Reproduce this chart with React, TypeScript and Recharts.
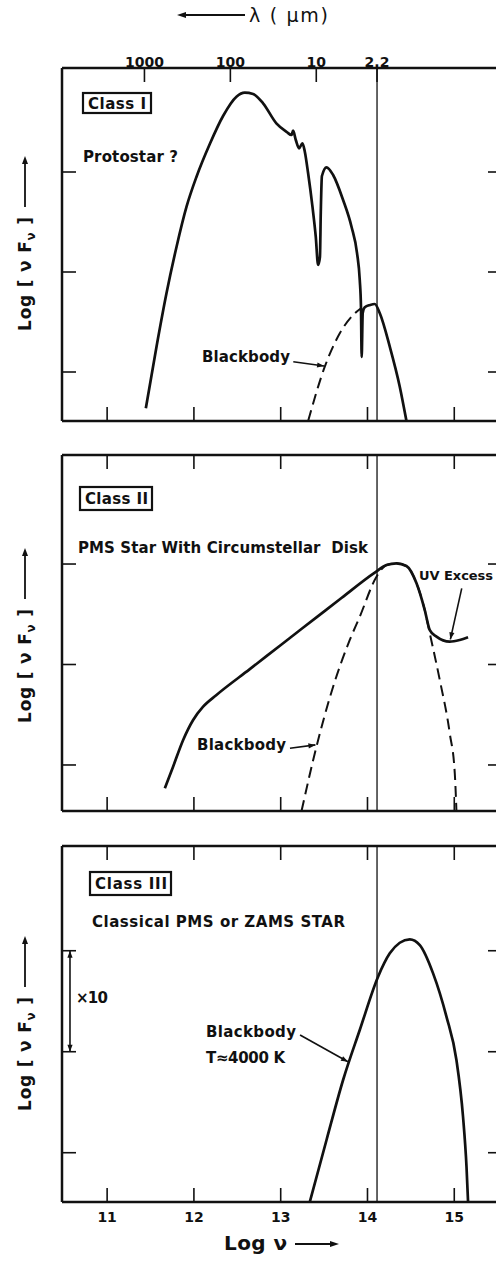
import React from "react";
import { LineChart, Line, XAxis, YAxis, ReferenceLine } from "recharts";

// ---------------------------------------------------------------------------
// Data (log nu on x, log nuF_nu in tick units on y)
// ---------------------------------------------------------------------------

const LOG_NU_TICKS = [11, 12, 13, 14, 15];
const FLUX_TICKS = [1, 2, 3];
const LAMBDA_TICKS = [11.43, 12.42, 13.41, 14.11];
const LAMBDA_LABELS = ["1000", "100", "10", "2.2"];
const K_BAND = 14.11; // 2.2 micron
const X_DOMAIN: [number, number] = [10.48, 15.55];

// Class I
const C1_NU = [11.446, 11.569, 11.684, 11.8, 11.915, 12.03, 12.183, 12.336, 12.49, 12.586, 12.682, 12.797, 12.95, 13.07, 13.124, 13.143, 13.174, 13.212, 13.251, 13.278, 13.316, 13.366, 13.404, 13.431, 13.452, 13.462, 13.475, 13.528, 13.604, 13.719, 13.816, 13.88, 13.911, 13.925, 13.933, 13.945, 13.969, 14.03, 14.084, 14.142, 14.257, 14.372, 14.449];
const C1_SED = [0.637, 1.253, 1.787, 2.253, 2.653, 2.953, 3.28, 3.56, 3.753, 3.793, 3.78, 3.687, 3.487, 3.4, 3.37, 3.413, 3.32, 3.237, 3.287, 3.203, 2.987, 2.653, 2.353, 2.07, 2.15, 2.6, 2.96, 3.047, 2.97, 2.72, 2.453, 2.187, 1.92, 1.65, 1.15, 1.59, 1.647, 1.67, 1.68, 1.587, 1.253, 0.853, 0.51];
const C1_BB_NU = [13.316, 13.508, 13.681, 13.854, 13.93];
const C1_BB = [0.51, 1.053, 1.387, 1.587, 1.64];

// Class II
const C2_NU = [11.665, 11.76, 11.876, 11.991, 12.106, 12.26, 12.644, 13.028, 13.412, 13.7, 14.084, 14.219, 14.334, 14.449, 14.565, 14.66, 14.718, 14.795, 14.948, 15.063, 15.159];
const C2_SED = [0.768, 0.983, 1.249, 1.448, 1.58, 1.697, 1.954, 2.212, 2.469, 2.662, 2.915, 2.99, 3.007, 2.98, 2.808, 2.542, 2.343, 2.277, 2.227, 2.244, 2.271];
const C2_BB_NU = [13.24, 13.412, 13.604, 13.796, 13.911, 14.104, 14.219, 14.334, 14.449, 14.565, 14.66, 14.718, 14.833, 14.948, 15.006, 15.025];
const C2_BB = [0.542, 1.182, 1.779, 2.244, 2.476, 2.874, 2.99, 3.007, 2.98, 2.808, 2.542, 2.31, 1.846, 1.315, 0.917, 0.542];

// Class III
const C3_NU = [13.335, 13.528, 13.719, 13.911, 14.122, 14.257, 14.372, 14.487, 14.603, 14.756, 14.91, 15.025, 15.101, 15.141, 15.159];
const C3_SED = [0.512, 1.126, 1.72, 2.215, 2.743, 2.974, 3.079, 3.113, 3.056, 2.776, 2.347, 1.918, 1.356, 0.861, 0.512];

type Pt = { x: number; y: number };
const zip = (xs: number[], ys: number[]): Pt[] => xs.map((x, i) => ({ x, y: ys[i] }));

// ---------------------------------------------------------------------------
// Styling
// ---------------------------------------------------------------------------

const FONT = "'DejaVu Sans', 'Liberation Sans', sans-serif";
const INK = "#111";
const FRAME = { stroke: INK, strokeWidth: 2.5 };
const TICK_LEN = 14;

// ---------------------------------------------------------------------------
// Inward tick renderers (frame-style axes)
// ---------------------------------------------------------------------------

const tickText = {
  fill: INK,
  fontSize: 14,
  fontWeight: 700,
  fontFamily: FONT,
  textAnchor: "middle" as const,
};

function bottomTick(withLabels: boolean) {
  return (p: any) => (
    <g>
      <line x1={p.x} y1={p.y} x2={p.x} y2={p.y - TICK_LEN} stroke={INK} strokeWidth={1.6} />
      {withLabels && (
        <text x={p.x} y={p.y + 20} {...tickText}>
          {p.payload.value}
        </text>
      )}
    </g>
  );
}

function topTick(labels?: string[], positions?: number[]) {
  return (p: any) => {
    const idx = positions ? positions.indexOf(p.payload.value) : -1;
    return (
      <g>
        <line x1={p.x} y1={p.y} x2={p.x} y2={p.y + TICK_LEN} stroke={INK} strokeWidth={1.6} />
        {labels && idx >= 0 && (
          <text x={p.x} y={p.y - 1.5} {...tickText}>
            {labels[idx]}
          </text>
        )}
      </g>
    );
  };
}

const leftTick = (p: any) => (
  <line x1={p.x} y1={p.y} x2={p.x + TICK_LEN} y2={p.y} stroke={INK} strokeWidth={1.6} />
);

const rightTick = (p: any) => (
  <line x1={p.x} y1={p.y} x2={p.x - TICK_LEN} y2={p.y} stroke={INK} strokeWidth={1.6} />
);

// ---------------------------------------------------------------------------
// Arrow shape for annotation pointers
// ---------------------------------------------------------------------------

function arrowHead(x1: number, y1: number, x2: number, y2: number) {
  const a = Math.atan2(y2 - y1, x2 - x1);
  const L = 7;
  const W = 2.6;
  const bx = x2 - L * Math.cos(a);
  const by = y2 - L * Math.sin(a);
  const px = -Math.sin(a) * W;
  const py = Math.cos(a) * W;
  return `${x2},${y2} ${bx + px},${by + py} ${bx - px},${by - py}`;
}

function ArrowShape(props: any) {
  const { x1, y1, x2, y2, both } = props;
  return (
    <g>
      <line x1={x1} y1={y1} x2={x2} y2={y2} stroke={INK} strokeWidth={1.6} />
      <polygon points={arrowHead(x1, y1, x2, y2)} fill={INK} />
      {both && <polygon points={arrowHead(x2, y2, x1, y1)} fill={INK} />}
    </g>
  );
}

interface Pointer {
  from: Pt;
  to: Pt;
  both?: boolean;
}

// ---------------------------------------------------------------------------
// One SED panel
// ---------------------------------------------------------------------------

interface PanelProps {
  top: number;
  topAxisHeight: number;
  plotHeight: number;
  bottomAxisHeight: number;
  yDomain: [number, number];
  solid: Pt[];
  dashed?: Pt[];
  lambdaAxis?: boolean;
  bottomLabels?: boolean;
  pointers?: Pointer[];
}

function Panel({
  top,
  topAxisHeight,
  plotHeight,
  bottomAxisHeight,
  yDomain,
  solid,
  dashed,
  lambdaAxis,
  bottomLabels,
  pointers = [],
}: PanelProps) {
  const height = topAxisHeight + plotHeight + bottomAxisHeight;
  return (
    <div style={{ position: "absolute", left: 0, top }}>
      <LineChart width={520} height={height} margin={{ top: 0, right: 0, bottom: 0, left: 0 }}>
        <XAxis
          dataKey="x"
          type="number"
          domain={X_DOMAIN}
          allowDataOverflow
          ticks={LOG_NU_TICKS}
          interval={0}
          height={bottomAxisHeight}
          axisLine={FRAME}
          tickLine={false}
          tickSize={0}
          tickMargin={0}
          tick={bottomTick(!!bottomLabels)}
        />
        <XAxis
          xAxisId="top"
          orientation="top"
          dataKey="x"
          type="number"
          domain={X_DOMAIN}
          allowDataOverflow
          ticks={lambdaAxis ? LAMBDA_TICKS : LOG_NU_TICKS}
          interval={0}
          height={topAxisHeight}
          axisLine={FRAME}
          tickLine={false}
          tickSize={0}
          tickMargin={0}
          tick={lambdaAxis ? topTick(LAMBDA_LABELS, LAMBDA_TICKS) : topTick()}
        />
        <YAxis
          type="number"
          domain={yDomain}
          allowDataOverflow
          ticks={FLUX_TICKS}
          interval={0}
          width={62}
          axisLine={FRAME}
          tickLine={false}
          tickSize={0}
          tickMargin={0}
          tick={leftTick}
        />
        <YAxis
          yAxisId="right"
          orientation="right"
          type="number"
          domain={yDomain}
          allowDataOverflow
          ticks={FLUX_TICKS}
          interval={0}
          width={18}
          axisLine={FRAME}
          tickLine={false}
          tickSize={0}
          tickMargin={0}
          tick={rightTick}
        />
        <ReferenceLine x={K_BAND} stroke={INK} strokeWidth={1.3} />
        {dashed && (
          <Line
            data={dashed}
            dataKey="y"
            type="monotone"
            dot={false}
            stroke={INK}
            strokeWidth={2}
            strokeDasharray="11 6"
            isAnimationActive={false}
          />
        )}
        <Line
          data={solid}
          dataKey="y"
          type="monotone"
          dot={false}
          stroke={INK}
          strokeWidth={2.7}
          isAnimationActive={false}
        />
        {pointers.map((p, i) => (
          <ReferenceLine
            key={i}
            segment={[p.from, p.to]}
            shape={(sp: any) => <ArrowShape {...sp} both={p.both} />}
          />
        ))}
      </LineChart>
    </div>
  );
}

// ---------------------------------------------------------------------------
// Text overlay
// ---------------------------------------------------------------------------

function Txt({
  x,
  y,
  w,
  size = 15,
  weight = 700,
  children,
}: {
  x: number;
  y: number;
  w?: number;
  size?: number;
  weight?: number;
  children: React.ReactNode;
}) {
  return (
    <text
      x={x}
      y={y}
      fontSize={size}
      fontWeight={weight}
      fontFamily={FONT}
      fill={INK}
      textLength={w}
      lengthAdjust="spacing"
      style={{ whiteSpace: "pre" }}
    >
      {children}
    </text>
  );
}

function ClassBox({ x, y, w, h, tx, tw, label }: { x: number; y: number; w: number; h: number; tx: number; tw: number; label: string }) {
  return (
    <g>
      <rect x={x} y={y} width={w} height={h} fill="none" stroke={INK} strokeWidth={2.2} />
      <Txt x={tx} y={y + h / 2 + 5.5} w={tw} size={15}>
        {label}
      </Txt>
    </g>
  );
}

function FluxLabel({ cy }: { cy: number }) {
  return (
    <g transform={`translate(25, ${cy}) rotate(-90)`}>
      <text
        x={-87}
        y={6}
        fontSize={17}
        fontWeight={700}
        fontFamily={FONT}
        fill={INK}
        textLength={114}
        lengthAdjust="spacing"
      >
        Log [ ν F<tspan fontSize={12} dy={4}>ν</tspan>
        <tspan dy={-4}> ]</tspan>
      </text>
      <line x1={37} y1={0} x2={82} y2={0} stroke={INK} strokeWidth={1.8} />
      <polygon points="88,0 80,-3 80,3" fill={INK} />
    </g>
  );
}

function Overlay() {
  return (
    <svg
      width={496}
      height={1262}
      style={{ position: "absolute", left: 0, top: 0, pointerEvents: "none" }}
    >
      {/* wavelength title */}
      <line x1={184} y1={15} x2={245} y2={15} stroke={INK} strokeWidth={1.8} />
      <polygon points="177,15 186,12 186,18" fill={INK} />
      <Txt x={249} y={22} w={79} size={19} weight={400}>
        λ ( µm)
      </Txt>

      {/* panel 1 */}
      <ClassBox x={83} y={93} w={68} h={20} tx={88} tw={58} label="Class I" />
      <Txt x={83} y={162} w={95}>Protostar ?</Txt>
      <Txt x={202} y={362} w={88}>Blackbody</Txt>
      <FluxLabel cy={244} />

      {/* panel 2 */}
      <ClassBox x={80} y={487} w={72} h={23} tx={85} tw={63} label="Class II" />
      <Txt x={78} y={553} w={290}>PMS Star With Circumstellar  Disk</Txt>
      <Txt x={197} y={750} w={89}>Blackbody</Txt>
      <Txt x={419} y={580} w={74} size={13}>UV Excess</Txt>
      <FluxLabel cy={636} />

      {/* panel 3 */}
      <ClassBox x={90} y={872} w={81} h={23} tx={95} tw={72} label="Class III" />
      <Txt x={92} y={927} w={253}>Classical PMS or ZAMS STAR</Txt>
      <Txt x={76} y={1003} w={32} size={15}>×10</Txt>
      <Txt x={206} y={1037} w={90}>Blackbody</Txt>
      <Txt x={206} y={1063} w={79}>T≈4000 K</Txt>
      <FluxLabel cy={1024} />

      {/* frequency title */}
      <Txt x={224} y={1250} w={63} size={20}>
        Log ν
      </Txt>
      <line x1={295} y1={1244} x2={332} y2={1244} stroke={INK} strokeWidth={1.8} />
      <polygon points="339,1244 330,1241 330,1247" fill={INK} />
    </svg>
  );
}

// ---------------------------------------------------------------------------
// App
// ---------------------------------------------------------------------------

export default function App() {
  return (
    <div
      style={{
        position: "absolute",
        left: 0,
        top: 0,
        width: 496,
        height: 1262,
        overflow: "hidden",
        background: "#fff",
      }}
    >
      <Panel
        top={0}
        topAxisHeight={68}
        plotHeight={353}
        bottomAxisHeight={24}
        yDomain={[0.51, 4.04]}
        solid={zip(C1_NU, C1_SED)}
        dashed={zip(C1_BB_NU, C1_BB)}
        lambdaAxis
        pointers={[{ from: { x: 13.145, y: 1.103 }, to: { x: 13.5, y: 1.06 } }]}
      />
      <Panel
        top={445}
        topAxisHeight={10}
        plotHeight={356}
        bottomAxisHeight={24}
        yDomain={[0.542, 4.085]}
        solid={zip(C2_NU, C2_SED)}
        dashed={zip(C2_BB_NU, C2_BB)}
        pointers={[
          { from: { x: 13.107, y: 1.166 }, to: { x: 13.4, y: 1.2 } },
          { from: { x: 15.086, y: 2.758 }, to: { x: 14.955, y: 2.25 } },
        ]}
      />
      <Panel
        top={835}
        topAxisHeight={11}
        plotHeight={356}
        bottomAxisHeight={60}
        yDomain={[0.512, 4.037]}
        solid={zip(C3_NU, C3_SED)}
        bottomLabels
        pointers={[
          { from: { x: 13.223, y: 2.166 }, to: { x: 13.775, y: 1.9 } },
          { from: { x: 10.572, y: 3 }, to: { x: 10.572, y: 2 }, both: true },
        ]}
      />
      <Overlay />
    </div>
  );
}
